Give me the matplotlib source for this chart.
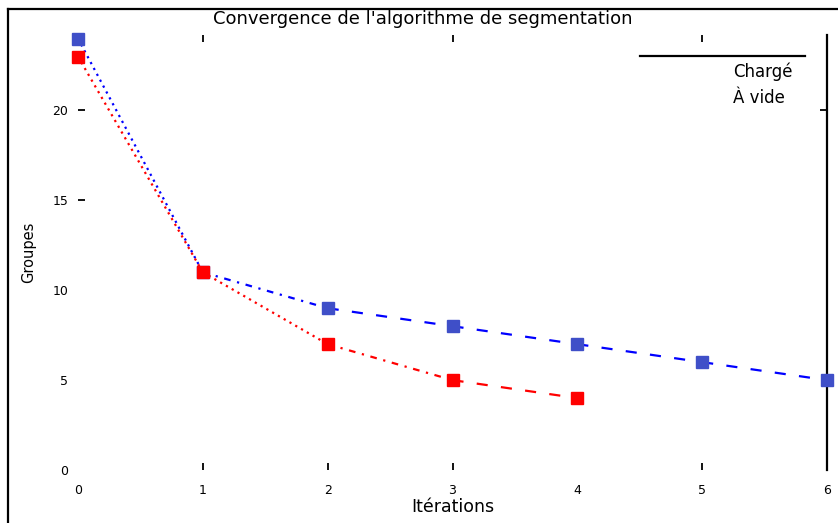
import matplotlib
matplotlib.use("Agg")
import matplotlib.pyplot as plt
from matplotlib.lines import Line2D

iterations = [0, 1, 2, 3, 4, 5, 6]
groupes_vide = [24, 11, 9, 8, 7, 6, 5]
iter_charge = [0, 1, 2, 3, 4]
groupes_charge = [23, 11, 7, 5, 4]
x_ticks = [0, 1, 2, 3, 4, 5, 6]
y_ticks = [0, 5, 10, 15, 20]

W, H = 838, 523
plt.rcParams['font.family'] = ['DejaVu Sans']
fig = plt.figure(figsize=(W / 100, H / 100), dpi=100)

def fx(px):
    return px / W

def fy(py):
    return 1 - py / H

ax = fig.add_axes([fx(78), fy(470), fx(827) - fx(78), fy(35) - fy(470)])
ax.set_xlim(0, 6)
ax.set_ylim(0, 24.2)

dotted = (0, (1, 2))
dashdot = (0, (3, 3, 1, 3))
dashed = (0, (5, 6))

def draw_series(xs, ys, line_col, mark_col, styles):
    for i in range(len(xs) - 1):
        ax.plot(xs[i:i + 2], ys[i:i + 2], color=line_col, lw=1.6,
                linestyle=styles[i], clip_on=False, zorder=2)
    ax.plot(xs, ys, linestyle='none', marker='s', markersize=8.5,
            markerfacecolor=mark_col, markeredgecolor=mark_col,
            clip_on=False, zorder=3)

draw_series(iterations, groupes_vide, '#0000ff', '#3f4fc8',
            [dotted, dashdot, dashed, dashed, dashed, dashed])
draw_series(iter_charge, groupes_charge, '#ff0000', '#ff0000',
            [dotted, dotted, dashdot, dashed])

for s in ['left', 'bottom', 'top']:
    ax.spines[s].set_visible(False)
ax.spines['right'].set_linewidth(1.6)

ax.set_xticks(x_ticks)
ax.set_yticks(y_ticks)
ax.tick_params(direction='in', length=5, width=1.3, labelsize=9,
               top=True, right=True)
ax.tick_params(axis='x', pad=10)
ax.tick_params(axis='y', pad=7)

xt = ax.xaxis.get_major_ticks()
for i, t in enumerate(xt):
    t.tick1line.set_visible(x_ticks[i] in (1, 2, 3, 5))
    t.tick2line.set_visible(x_ticks[i] in (1, 3, 5))
yt = ax.yaxis.get_major_ticks()
for i, t in enumerate(yt):
    t.tick1line.set_visible(y_ticks[i] in (15, 20))
    t.tick2line.set_visible(y_ticks[i] in (20,))

ax.set_xlabel('Itérations', fontsize=12.5, labelpad=1)
ax.set_ylabel('Groupes', fontsize=10.5, labelpad=12)
fig.text(fx(423), fy(19), "Convergence de l'algorithme de segmentation",
         ha='center', va='center', fontsize=13)

# legend-like annotation
fig.add_artist(Line2D([fx(640), fx(805)], [fy(56), fy(56)], color='black', lw=1.6))
fig.text(fx(793), fy(72), 'Chargé', ha='right', va='center', fontsize=12)
fig.text(fx(785), fy(98), 'À vide', ha='right', va='center', fontsize=12)

# outer frame
fig.add_artist(Line2D([fx(8), fx(838)], [fy(9), fy(9)], color='black', lw=1.6))
fig.add_artist(Line2D([fx(8), fx(8)], [fy(9), fy(523)], color='black', lw=1.6))

fig.savefig('out.png', dpi=100)
